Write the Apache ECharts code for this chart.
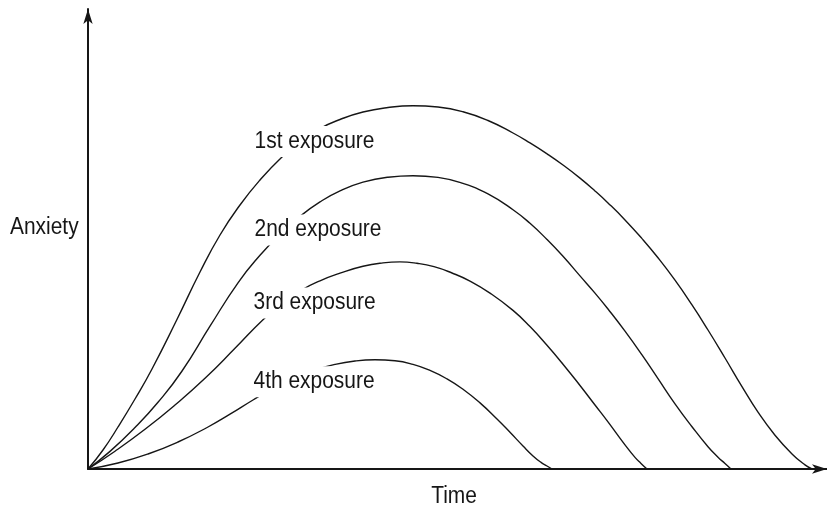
<!DOCTYPE html>
<html>
<head>
<meta charset="utf-8">
<script src="https://cdn.jsdelivr.net/npm/echarts@6/dist/echarts.min.js"></script>
<style>
  html, body { margin: 0; padding: 0; background: #fff; }
  #chart { width: 827px; height: 513px; }
</style>
</head>
<body>
<div id="chart"></div>
<script>
// Values (arbitrary units: time, anxiety)
const seriesNames = ['1st exposure', '2nd exposure', '3rd exposure', '4th exposure'];

const time1 = [0, 1.5, 3.0, 4.7, 6.4, 8.87, 11.2, 13.2, 15.2, 17.2, 19.4, 21.2, 23.2, 25.2, 27.5, 30.0, 32.5, 35.0, 37.5, 40.0, 42.5, 44.2, 45.9, 47.5, 49.2, 50.7, 52.0, 53.7, 55.4, 57.0, 58.7, 60.4, 62.0, 63.7, 65.4, 67.0, 68.7, 70.4, 71.7, 72.4];
const anx1  = [0, 1.9, 4.2, 7.0, 10.0, 14.9, 19.7, 23.4, 26.4, 28.9, 31.2, 32.7, 34.05, 34.95, 35.7, 36.15, 36.33, 36.2, 35.73, 34.85, 33.6, 32.61, 31.52, 30.4, 29.09, 27.81, 26.61, 24.91, 23.04, 21.12, 18.88, 16.41, 13.9, 11.1, 8.24, 5.68, 3.38, 1.51, 0.41, 0];

const time2 = [0, 2.2, 4.7, 7.0, 9.37, 12.2, 15.0, 17.2, 19.2, 21.2, 23.2, 25.2, 27.5, 30.0, 32.5, 35.0, 37.5, 40.0, 42.5, 44.2, 45.9, 47.5, 49.2, 50.7, 52.0, 53.7, 55.4, 57.0, 58.7, 60.4, 62.0, 63.0, 63.7, 64.3];
const anx2  = [0, 1.76, 4.14, 6.67, 9.75, 14.28, 18.62, 21.37, 23.47, 25.27, 26.71, 27.81, 28.68, 29.18, 29.33, 29.16, 28.56, 27.51, 25.93, 24.57, 22.95, 21.27, 19.31, 17.59, 16.0, 13.79, 11.41, 9.04, 6.52, 4.23, 2.23, 1.18, 0.55, 0];

const time3 = [0, 2.7, 5.7, 8.7, 11.7, 14.7, 17.5, 19.5, 21.4, 23.2, 25.2, 27.5, 29.5, 31.2, 32.9, 34.6, 36.4, 38.2, 40.2, 42.5, 44.2, 45.9, 47.5, 49.2, 50.7, 52.0, 53.7, 54.7, 55.3, 55.9];
const anx3  = [0, 1.78, 3.97, 6.4, 9.07, 12.07, 14.93, 16.63, 17.92, 18.82, 19.58, 20.27, 20.61, 20.71, 20.57, 20.23, 19.6, 18.79, 17.59, 15.86, 14.24, 12.37, 10.48, 8.35, 6.4, 4.71, 2.41, 1.16, 0.56, 0];

const time4 = [0, 3.0, 6.0, 9.0, 12.0, 14.2, 16.5, 18.7, 20.7, 22.7, 24.7, 26.7, 28.7, 30.7, 32.5, 34.2, 35.9, 37.5, 39.2, 40.9, 42.2, 43.5, 44.5, 45.3, 45.9, 46.4];
const anx4  = [0, 0.6, 1.5, 2.7, 4.2, 5.48, 6.9, 8.18, 9.14, 9.9, 10.46, 10.8, 10.92, 10.82, 10.46, 9.86, 9.01, 7.97, 6.61, 5.0, 3.67, 2.3, 1.3, 0.66, 0.3, 0];

const axisNames = { x: 'Time', y: 'Anxiety' };
const axisMax = { x: 73.9, y: 46.0 };

const allTimes = [time1, time2, time3, time4];
const allAnx = [anx1, anx2, anx3, anx4];

const FONT = '"Liberation Sans", Arial, sans-serif';
const INK = '#161616';

const chart = echarts.init(document.getElementById('chart'), null, { renderer: 'canvas' });

const series = seriesNames.map((name, i) => ({
  name: name,
  type: 'line',
  data: allTimes[i].map((t, j) => [t, allAnx[i][j]]),
  smooth: 0.5,
  showSymbol: false,
  symbol: 'none',
  lineStyle: { color: INK, width: 1.4 },
  z: 2
}));

function label(text, x, y, align, withBg) {
  const style = {
    text: text,
    font: '23px ' + FONT,
    fill: INK,
    textAlign: align,
    textVerticalAlign: 'middle'
  };
  if (withBg) {
    style.backgroundColor = '#fff';
    style.padding = [4, 5];
  }
  return { type: 'text', x: x, y: y, scaleX: 0.91, z: 100, style: style };
}

const labelPos = [[250, 141.5], [250, 230], [249, 303], [249, 381.7]];

chart.setOption({
  animation: false,
  backgroundColor: '#fff',
  grid: { left: 88, right: 0, top: 9, bottom: 44, containLabel: false },
  xAxis: {
    type: 'value', min: 0, max: axisMax.x,
    axisLine: { show: true, onZero: false, symbol: ['none', 'arrow'], symbolSize: [7, 15], lineStyle: { color: INK, width: 2 } },
    axisTick: { show: false }, axisLabel: { show: false }, splitLine: { show: false }
  },
  yAxis: {
    type: 'value', min: 0, max: axisMax.y,
    axisLine: { show: true, onZero: false, symbol: ['none', 'arrow'], symbolSize: [7, 15], lineStyle: { color: INK, width: 2 } },
    axisTick: { show: false }, axisLabel: { show: false }, splitLine: { show: false }
  },
  series: series,
  graphic: [
    label(seriesNames[0], labelPos[0][0], labelPos[0][1], 'left', true),
    label(seriesNames[1], labelPos[1][0], labelPos[1][1], 'left', true),
    label(seriesNames[2], labelPos[2][0], labelPos[2][1], 'left', true),
    label(seriesNames[3], labelPos[3][0], labelPos[3][1], 'left', true),
    label(axisNames.y, 10, 227.5, 'left', false),
    label(axisNames.x, 454, 497, 'center', false)
  ]
});
</script>
</body>
</html>
